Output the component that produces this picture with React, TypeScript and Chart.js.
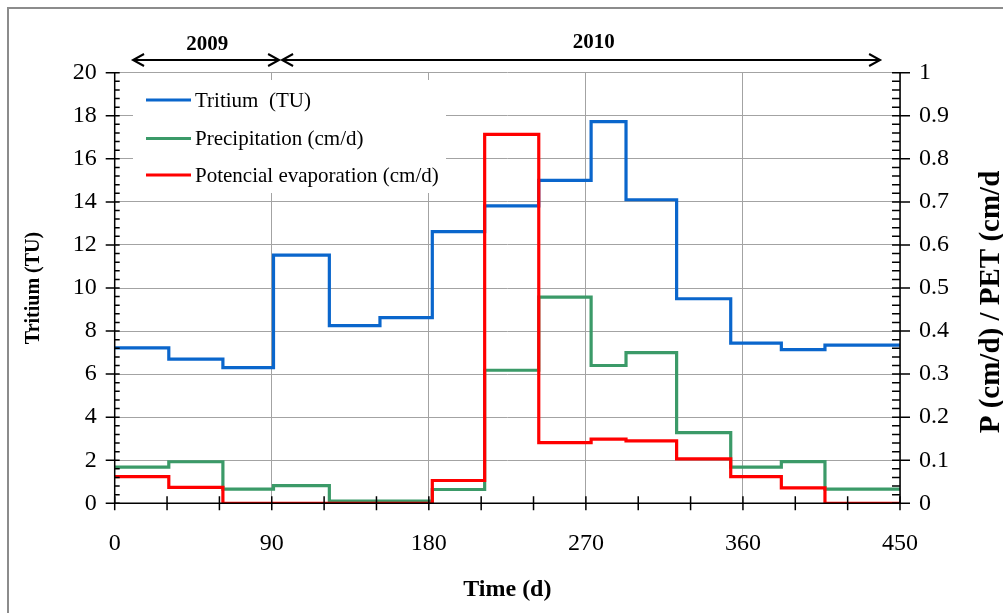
import React, { useEffect, useRef } from 'react';
import { Chart, registerables } from 'chart.js';

Chart.register(...registerables);

// Step boundaries (days) – each series holds one value per interval
const boundaries = [0, 31, 62, 91, 123, 152, 182, 212, 243, 273, 293, 322, 353, 382, 407, 450];
const tritium = [7.22, 6.7, 6.3, 11.53, 8.25, 8.62, 12.62, 13.81, 15.0, 17.73, 14.1, 9.5, 7.44, 7.14, 7.35];
const precipitation = [0.084, 0.0965, 0.033, 0.041, 0.005, 0.005, 0.032, 0.309, 0.479, 0.32, 0.35, 0.164, 0.084, 0.097, 0.033];
const evaporation = [0.062, 0.037, 0, 0, 0, 0, 0.053, 0.857, 0.141, 0.149, 0.145, 0.103, 0.062, 0.036, 0];

const seriesNames = ['Tritium  (TU)', 'Precipitation (cm/d)', 'Potencial evaporation (cm/d)'];
const seriesColors = ['#0a66cc', '#3b9a68', '#ff0000'];

const yearLabels = ['2009', '2010'];
const yearFrom = [10.5, 95.9];
const yearTo = [94.2, 438.6];
const yearLabelAt = [53, 274.5];

const xMin = 0, xMax = 450, xStep = 90, xMinorStep = 30;
const yMin = 0, yMax = 20, yStep = 2, yMinorStep = 0.4;
const y1Min = 0, y1Max = 1, y1Step = 0.1, y1MinorStep = 0.02;

const xTitle = 'Time (d)';
const yTitle = 'Tritium (TU)';
const y1Title = 'P (cm/d) / PET (cm/d';

const FONT = "'Liberation Serif', 'Times New Roman', serif";

function toSteps(values: number[]) {
  const pts = values.map((v, i) => ({ x: boundaries[i], y: v }));
  pts.push({ x: boundaries[boundaries.length - 1], y: values[values.length - 1] });
  return pts;
}

const W = 1000;
const H = 620;

const decorPlugin = {
  id: 'decor',
  afterDatasetsDraw(chart: any) {
    const ctx = chart.ctx;
    const { left, right, top, bottom } = chart.chartArea;
    const xs = chart.scales.x;
    const ys = chart.scales.y;
    const y1s = chart.scales.y1;
    ctx.save();
    // legend box
    ctx.fillStyle = '#ffffff';
    ctx.fillRect(124, 71, 313, 113);
    const rows = [91, 129.5, 166];
    ctx.font = `21px ${FONT}`;
    ctx.textBaseline = 'middle';
    ctx.textAlign = 'left';
    for (let i = 0; i < 3; i++) {
      ctx.strokeStyle = seriesColors[i];
      ctx.lineWidth = 3;
      ctx.beginPath();
      ctx.moveTo(137, rows[i]);
      ctx.lineTo(182, rows[i]);
      ctx.stroke();
      ctx.fillStyle = '#000';
      ctx.fillText(seriesNames[i], 186, rows[i] + 1);
    }
    // axes lines
    ctx.strokeStyle = '#000';
    ctx.lineWidth = 1.5;
    ctx.beginPath();
    ctx.moveTo(left, top);
    ctx.lineTo(left, bottom);
    ctx.moveTo(right, top);
    ctx.lineTo(right, bottom);
    ctx.moveTo(left, bottom);
    ctx.lineTo(right, bottom);
    ctx.stroke();
    ctx.lineWidth = 1.5;
    ctx.beginPath();
    // left ticks
    for (let v = yMin; v <= yMax + 1e-9; v += yMinorStep) {
      const p = ys.getPixelForValue(v);
      const isMajor = Math.abs(v / yStep - Math.round(v / yStep)) < 1e-6;
      ctx.moveTo(isMajor ? left - 9 : left, p);
      ctx.lineTo(left + 5, p);
    }
    // right ticks
    for (let v = y1Min; v <= y1Max + 1e-9; v += y1MinorStep) {
      const p = y1s.getPixelForValue(v);
      const isMajor = Math.abs(v / y1Step - Math.round(v / y1Step)) < 1e-6;
      ctx.moveTo(right - 8, p);
      ctx.lineTo(isMajor ? right + 10 : right, p);
    }
    // x ticks
    for (let v = xMin; v <= xMax + 1e-9; v += xMinorStep) {
      const p = xs.getPixelForValue(v);
      ctx.moveTo(p, bottom - 7);
      ctx.lineTo(p, bottom + 7);
    }
    ctx.stroke();

    // year arrows
    const ay = 51;
    ctx.lineWidth = 2;
    ctx.fillStyle = '#000';
    ctx.font = `bold 21px ${FONT}`;
    ctx.textAlign = 'center';
    ctx.textBaseline = 'middle';
    for (let i = 0; i < yearLabels.length; i++) {
      const a = xs.getPixelForValue(yearFrom[i]);
      const b = xs.getPixelForValue(yearTo[i]);
      ctx.beginPath();
      ctx.moveTo(a, ay);
      ctx.lineTo(b, ay);
      ctx.moveTo(a + 11, ay - 6);
      ctx.lineTo(a, ay);
      ctx.lineTo(a + 11, ay + 6);
      ctx.moveTo(b - 11, ay - 6);
      ctx.lineTo(b, ay);
      ctx.lineTo(b - 11, ay + 6);
      ctx.stroke();
      ctx.fillText(yearLabels[i], xs.getPixelForValue(yearLabelAt[i]), i === 0 ? 36 : 34);
    }

    // right title (reads bottom to top)
    ctx.save();
    ctx.translate(983, 293);
    ctx.rotate(-Math.PI / 2);
    ctx.font = `bold 29px ${FONT}`;
    ctx.textAlign = 'center';
    ctx.textBaseline = 'middle';
    ctx.fillText(y1Title, 0, 0);
    ctx.restore();
    ctx.restore();
  },
};

export default function App() {
  const ref = useRef<HTMLCanvasElement>(null);
  useEffect(() => {
    if (!ref.current) return;
    const tickFont = { family: FONT, size: 24 };
    const gridColor = '#a3a3a3';
    const chart = new Chart(ref.current, {
      type: 'line',
      data: {
        datasets: [
          { label: seriesNames[0], data: toSteps(tritium), yAxisID: 'y', borderColor: seriesColors[0], borderWidth: 3.2, pointRadius: 0, stepped: true, fill: false, order: 3 },
          { label: seriesNames[1], data: toSteps(precipitation), yAxisID: 'y1', borderColor: seriesColors[1], borderWidth: 3.2, pointRadius: 0, stepped: true, fill: false, order: 2 },
          { label: seriesNames[2], data: toSteps(evaporation), yAxisID: 'y1', borderColor: seriesColors[2], borderWidth: 3.2, pointRadius: 0, stepped: true, fill: false, order: 1 },
        ],
      },
      options: {
        animation: false,
        responsive: false,
        layout: { padding: { top: 63.7, left: 0, right: 0, bottom: 0 } },
        plugins: { legend: { display: false }, tooltip: { enabled: false } },
        scales: {
          x: {
            type: 'linear', min: xMin, max: xMax,
            ticks: { stepSize: xStep, font: tickFont, color: '#000', padding: 26, maxRotation: 0, autoSkip: false },
            grid: { color: gridColor, lineWidth: 1, drawTicks: false },
            border: { display: false },
            title: { display: true, text: xTitle, color: '#000', font: { family: FONT, size: 24, weight: 'bold' }, padding: { top: 0, bottom: 24.6 } },
            afterFit: (s: any) => { s.height = H - 494.3; },
          },
          y: {
            type: 'linear', position: 'left', min: yMin, max: yMax,
            ticks: { stepSize: yStep, font: tickFont, color: '#000', padding: 18 },
            grid: { color: gridColor, lineWidth: 1, drawTicks: false },
            border: { display: false },
            title: { display: true, text: yTitle, color: '#000', font: { family: FONT, size: 20, weight: 'bold' }, padding: { top: 13, bottom: 0 } },
            afterFit: (s: any) => { s.width = 105.7; },
          },
          y1: {
            type: 'linear', position: 'right', min: y1Min, max: y1Max,
            ticks: {
              stepSize: y1Step, font: tickFont, color: '#000', padding: 19,
              callback: (v: any) => String(Math.round(Number(v) * 10) / 10),
            },
            grid: { display: false, drawTicks: false },
            border: { display: false },
            afterFit: (s: any) => { s.width = W - 891; },
          },
        },
      },
      plugins: [decorPlugin],
    } as any);
    return () => chart.destroy();
  }, []);

  return (
    <div style={{ position: 'fixed', left: 7, top: 7, width: 996, height: 606, overflow: 'hidden', background: '#fff' }}>
      <div style={{ border: '2px solid #8c8c8c', width: W, height: H }}>
        <canvas ref={ref} width={W} height={H} style={{ display: 'block' }} />
      </div>
    </div>
  );
}
